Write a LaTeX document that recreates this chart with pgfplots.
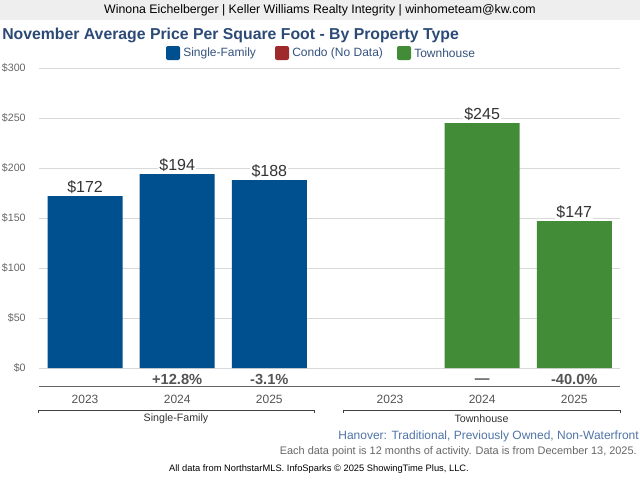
\documentclass[border=0pt]{standalone}
\usepackage{pgfplots}
\pgfplotsset{compat=1.18}
\usepackage{fontspec}
\setmainfont{Liberation Sans}

\definecolor{sfblue}{HTML}{00508F}
\definecolor{condored}{HTML}{9E2A2B}
\definecolor{thgreen}{HTML}{428B37}
\definecolor{titleblue}{HTML}{2C4A76}
\definecolor{legtext}{HTML}{34527E}
\definecolor{subblue}{HTML}{4F74A6}
\definecolor{gridgray}{HTML}{D9D9D9}
\definecolor{headbg}{HTML}{EEEEEE}

\newcommand{\fs}[1]{\fontsize{#1}{#1}\selectfont}

\begin{document}
\begin{tikzpicture}
\path[use as bounding box] (0,0) rectangle (480pt,360pt);

\begin{axis}[
  at={(29.25pt,84pt)}, anchor=south west,
  scale only axis, width=436pt, height=225pt,
  xmin=-0.5, xmax=5.81, ymin=0, ymax=300,
  axis line style={draw=none},
  major tick length=0pt,
  xtick=\empty,
  ytick={0,50,...,300},
  yticklabels={\$0,\$50,\$100,\$150,\$200,\$250,\$300},
  yticklabel style={font=\fs{8}, text=black!60, xshift=-6.5pt},
  ymajorgrids, grid style={draw=gridgray, line width=0.75pt},
  ybar, bar width=56.25pt, bar shift=0pt,
  clip=false,
  /pgf/number format/assume math mode=true,
  nodes near coords={\$\pgfmathprintnumber{\pgfplotspointmeta}},
  every node near coord/.append style={font=\fs{12}, text=black!80,
    fill=white, inner sep=0.8pt, anchor=center, yshift=7pt},
]
% Single-Family
\addplot[draw=none, fill=sfblue] coordinates {(0,172) (1,194) (2,188)};
% Townhouse (no 2023 value)
\addplot[draw=none, fill=thgreen] coordinates {(4.31,245) (5.31,147)};

% change row
\begin{scope}[every node/.style={font=\bfseries\fs{11}, text=black!67}]
\node at (axis cs:1,0) [yshift=-8.25pt] {+12.8\%};
\node at (axis cs:2,0) [yshift=-8.25pt] {-3.1\%};
\node at (axis cs:4.31,0) [yshift=-9.5pt] {—};
\node at (axis cs:5.31,0) [yshift=-8.25pt] {-40.0\%};
\end{scope}
\draw[black!60, line width=0.75pt] ([yshift=-13.5pt]rel axis cs:0,0) -- ([yshift=-13.5pt]rel axis cs:1,0);
% years
\begin{scope}[every node/.style={font=\fs{9}, text=black!67}]
\node at (axis cs:0,0) [yshift=-23.25pt] {2023};
\node at (axis cs:1,0) [yshift=-23.25pt] {2024};
\node at (axis cs:2,0) [yshift=-23.25pt] {2025};
\node at (axis cs:3.31,0) [yshift=-23.25pt] {2023};
\node at (axis cs:4.31,0) [yshift=-23.25pt] {2024};
\node at (axis cs:5.31,0) [yshift=-23.25pt] {2025};
\end{scope}
\end{axis}

% overlay in pixel units (origin top left, y down)
\begin{scope}[x=0.75pt, y=-0.75pt, shift={(0pt,360pt)}]
\fill[headbg] (0,0) rectangle (640,20);
\node[font=\fs{9.25}, text=black] at (320,10) {Winona Eichelberger | Keller Williams Realty Integrity | winhometeam@kw.com};
\node[font=\bfseries\fs{11.85}, text=titleblue, anchor=west, inner sep=0pt] at (2,35) {November Average Price Per Square Foot - By Property Type};
% legend
\fill[sfblue, rounded corners=1.5pt] (166,46) rectangle (180,60);
\node[font=\fs{9}, text=legtext, anchor=west, inner sep=0pt] at (183,53) {Single-Family};
\fill[condored, rounded corners=1.5pt] (275,46) rectangle (289,60);
\node[font=\fs{9}, text=legtext, anchor=west, inner sep=0pt] at (292,53) {Condo (No Data)};
\fill[thgreen, rounded corners=1.5pt] (397,46) rectangle (411,60);
\node[font=\fs{9}, text=legtext, anchor=west, inner sep=0pt] at (414,53) {Townhouse};
% group brackets
\draw[black!75, line width=0.75pt] (38,413) -- (38,410) -- (314,410) -- (314,413);
\draw[black!75, line width=0.75pt] (343,413) -- (343,410) -- (620,410) -- (620,413);
\node[font=\fs{8}, text=black!80] at (176,418.5) {Single-Family};
\node[font=\fs{8}, text=black!80] at (481.5,418.5) {Townhouse};
% footer
\node[font=\fs{9}, text=subblue, anchor=east, inner sep=0pt] at (639,436) {Hanover: Traditional, Previously Owned, Non-Waterfront};
\node[font=\fs{8.2}, text=black!60, anchor=east, inner sep=0pt] at (637,452) {Each data point is 12 months of activity. Data is from December 13, 2025.};
\node[font=\fs{7}, text=black, inner sep=0pt] at (319,469) {All data from NorthstarMLS. InfoSparks © 2025 ShowingTime Plus, LLC.};
\end{scope}
\end{tikzpicture}
\end{document}
